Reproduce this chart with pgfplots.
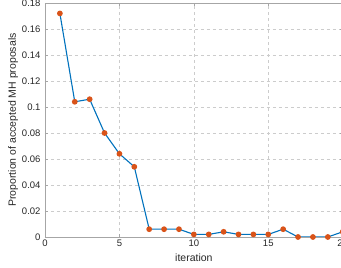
\documentclass[border=0pt]{standalone}
\usepackage{pgfplots}
\pgfplotsset{compat=1.18}
\usepackage{fontspec}
\setmainfont{Liberation Sans}
\definecolor{mblue}{rgb}{0,0.447,0.741}
\definecolor{morange}{rgb}{0.85,0.325,0.098}
\definecolor{txt}{rgb}{0.15,0.15,0.15}
\begin{document}
\begin{tikzpicture}
\begin{axis}[
  scale only axis,
  width=297.7pt, height=234pt,
  xmin=0, xmax=20, ymin=0, ymax=0.18,
  xtick={0,5,10,15,20},
  ytick={0,0.02,0.04,0.06,0.08,0.1,0.12,0.14,0.16,0.18},
  /pgf/number format/assume math mode=true,
  yticklabel style={/pgf/number format/fixed,/pgf/number format/precision=2},
  scaled y ticks=false,
  tick label style={font=\fontsize{9.5}{11}\selectfont, text=txt},
  label style={font=\fontsize{10.5}{12}\selectfont, text=txt},
  xlabel={iteration},
  ylabel={Proportion of accepted MH proposals},
  xlabel style={yshift=-1pt},
  ylabel style={yshift=-3pt},
  grid=major,
  major grid style={dashed, color=gray!40, line width=0.4pt},
  axis line style={color=gray!70, line width=0.5pt},
  tick align=inside,
  major tick length=3pt,
  tick style={color=gray!70, line width=0.5pt},
  xticklabel style={yshift=1pt},
  yticklabel style={xshift=-1pt},
]
\addplot[color=mblue, line width=1.1pt, mark=*, mark size=2.3pt,
  mark options={fill=morange, draw=morange}]
  coordinates {
  (1,0.172) (2,0.104) (3,0.106) (4,0.080) (5,0.064) (6,0.054)
  (7,0.006) (8,0.006) (9,0.006) (10,0.002) (11,0.002) (12,0.004)
  (13,0.002) (14,0.002) (15,0.002) (16,0.006) (17,0) (18,0) (19,0) (20,0.004)
  };
\end{axis}
\pgfresetboundingbox
\useasboundingbox (-45pt,-31pt) rectangle (296pt,237pt);
\end{tikzpicture}
\end{document}
